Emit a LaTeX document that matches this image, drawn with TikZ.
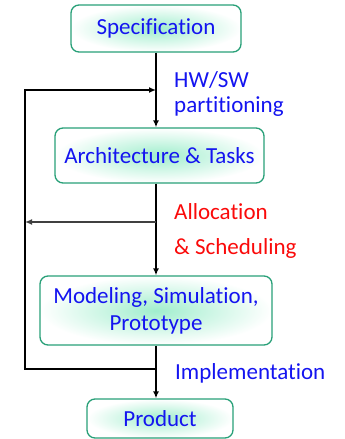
\documentclass[tikz,border=0pt]{standalone}
\usepackage{fontspec}
\setmainfont[Ligatures=NoCommon]{Carlito}
\usetikzlibrary{arrows.meta}
\definecolor{boxline}{RGB}{40,160,120}
\definecolor{mint}{RGB}{160,238,205}
\definecolor{txtblue}{RGB}{20,20,240}
\definecolor{txtred}{RGB}{250,10,10}
\tikzset{
  flowbox/.style={draw=boxline, line width=1.3pt, rounded corners=8pt,
    shading=radial, inner color=mint, outer color=white,
    text=txtblue, font=\fontsize{23}{27}\selectfont, align=center, inner sep=0pt},
  conn/.style={line width=1.4pt, draw=black},
  tip/.style={-{Latex[length=7pt,width=6pt]}},
  lab/.style={anchor=west, font=\fontsize{23}{27}\selectfont, inner sep=0pt},
}
\begin{document}
\begin{tikzpicture}[x=1pt,y=-1pt]
\useasboundingbox (0,0) rectangle (345,439);
\node[flowbox, minimum width=170pt, minimum height=47pt] (spec) at (156,28.5) {Specification};
\node[flowbox, minimum width=209pt, minimum height=55pt] (arch) at (159.5,155.5) {Architecture \& Tasks};
\node[flowbox, minimum width=232pt, minimum height=69pt] (model) at (156,310.5) {Modeling, Simulation,\\ Prototype};
\node[flowbox, minimum width=146pt, minimum height=39pt] (prod) at (160,418.5) {Product};

\coordinate (fbtop) at (156,90);
\coordinate (alloc) at (156,222);
\coordinate (impl) at (156,369);
\coordinate (lefttop) at (25,90);
\coordinate (leftmid) at (25,222);
\coordinate (leftbot) at (25,369);

\draw[conn, tip] (spec.south) -- (spec.south |- arch.north);
\draw[conn, tip] (alloc |- arch.south) -- (alloc |- model.north);
\draw[conn, tip] (impl |- model.south) -- (impl |- prod.north);
\draw[conn, tip] (impl) -- (leftbot) -- (lefttop) -- (fbtop);
\draw[conn, draw=black!75, tip] (alloc) -- (leftmid);

\node[lab, text=txtblue] (hw) at (174,80) {HW/SW};
\node[lab, text=txtblue] (part) at (174,107) {partitioning};
\node[lab, text=txtred] (al) at (174,212) {Allocation};
\node[lab, text=txtred] (sch) at (174,248) {\& Scheduling};
\node[lab, text=txtblue] (im) at (175,373) {Implementation};
\end{tikzpicture}
\end{document}
